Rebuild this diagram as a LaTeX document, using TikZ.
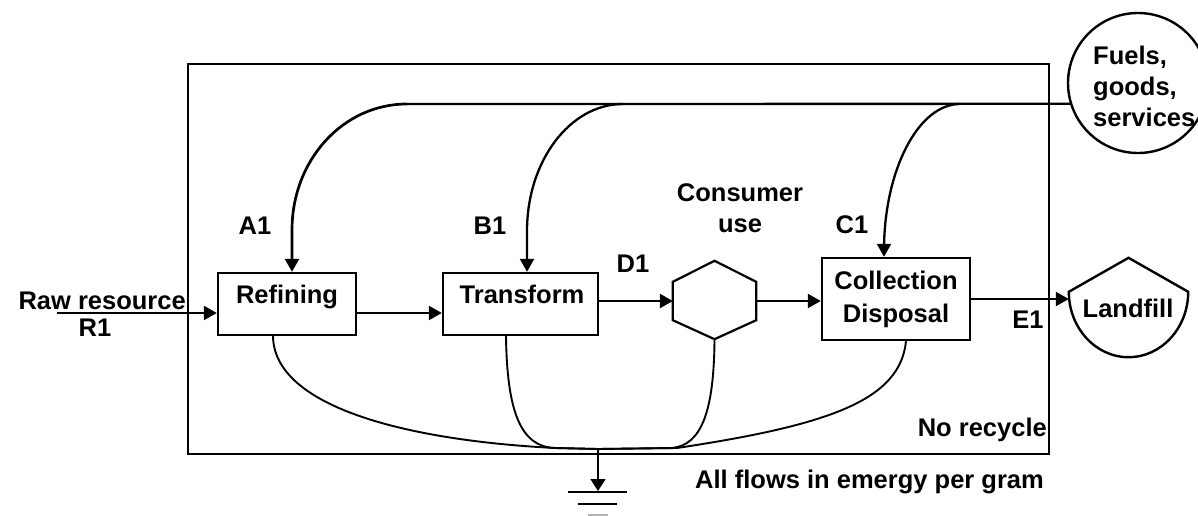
\documentclass[tikz,border=0pt]{standalone}
\usepackage{fontspec}
\newfontfamily\lbl{Liberation Sans}
\usetikzlibrary{arrows.meta,calc}
\begin{document}
\begin{tikzpicture}[x=1pt,y=-1pt,
  txt/.style={font=\lbl\bfseries\fontsize{25.5}{31}\selectfont, inner sep=0pt},
  box/.style={draw, line width=2.4pt, inner sep=0pt},
  ghost/.style={inner sep=0pt},
  flow/.style={line width=2.3pt, -{Triangle[length=13pt,width=14pt]}},
  sink/.style={line width=1.9pt},
  plain/.style={line width=2.3pt},
  gnd/.style={line width=2.4pt}]
\useasboundingbox (0,0) rectangle (1198,516);

% system boundary
\node[box, minimum width=861pt, minimum height=390pt] (sys) at (618.5,259) {};

% components
\node[box, minimum width=138pt, minimum height=62pt] (ref) at (287,304) {};
\node[box, minimum width=155pt, minimum height=62pt] (tr) at (520.5,304) {};
\node[box, minimum width=148pt, minimum height=82pt] (col) at (896,299) {};
\node[ghost, minimum width=83pt, minimum height=78pt] (hex) at (714.5,300) {};
\node[ghost, minimum width=119pt, minimum height=99pt] (land) at (1128.5,307.5) {};
\node[circle, draw, line width=2.4pt, minimum size=140pt, inner sep=0pt] (fuel) at (1138,83) {};

% hexagon
\draw[line width=2.2pt] (hex.north) -- ($(hex.north east)+(0,21)$) -- ($(hex.south east)+(0,-19)$)
  -- (hex.south) -- ($(hex.south west)+(0,-19)$) -- ($(hex.north west)+(0,21)$) -- cycle;

% landfill shape
\draw[line width=2.4pt] (land.north) -- ($(land.north east)+(0,34)$)
  .. controls ($(land.north east)+(0,70)$) and ($(land.south)+(33,0)$) .. (land.south)
  .. controls ($(land.south)+(-33,0)$) and ($(land.north west)+(0,70)$) .. ($(land.north west)+(0,34)$) -- cycle;

% text
\node[txt, anchor=base east] (traw) at (186,309) {Raw resource};
\node[txt, anchor=base] (tr1) at (95,336) {R1};
\node[txt, anchor=base] (ta1) at (255,234) {A1};
\node[txt, anchor=base] (tb1) at (490,234) {B1};
\node[txt, anchor=base] (td1) at (633,272) {D1};
\node[txt, anchor=base] (tcons) at (740,201) {Consumer};
\node[txt, anchor=base] (tuse) at (740,232) {use};
\node[txt, anchor=base] (tc1) at (852,233) {C1};
\node[txt, anchor=base] (tref) at (287,303) {Refining};
\node[txt, anchor=base] (ttr) at (522,303) {Transform};
\node[txt, anchor=base] (tcol) at (896,289) {Collection};
\node[txt, anchor=base] (tdis) at (896,322) {Disposal};
\node[txt, anchor=base] (te1) at (1028,328) {E1};
\node[txt, anchor=base] (tland) at (1128,317) {Landfill};
\node[txt, anchor=base east] (tnorec) at (1047,436) {No recycle};
\node[txt, anchor=base west] (tall) at (695,488) {All flows in emergy per gram};
\node[txt, anchor=base west] (tf1) at (1093,65) {Fuels,};
\node[txt, anchor=base west] (tf2) at (1093,96) {goods,};
\node[txt, anchor=base west] (tf3) at (1093,127) {services};

% helper coordinates
\coordinate (y313) at (0,313);
\coordinate (y301) at (0,301);
\coordinate (y299) at (0,299);
\coordinate (rawstart) at (57,313);
\coordinate (a0) at (407,104);
\coordinate (b0) at (623,104);
\coordinate (c0) at (960,104);
\coordinate (j) at (598,449);
\coordinate (g) at (598,491);

% main chain
\draw[flow] (rawstart) -- (ref.west |- y313);
\draw[flow] (ref.east |- y313) -- (tr.west |- y313);
\draw[flow] (tr.east |- y301) -- (hex.west |- y301);
\draw[flow] (hex.east |- y301) -- (col.west |- y301);
\draw[flow] (col.east |- y299) -- (land.west |- y299);

% inputs from fuels
\draw[plain] (fuel.197.5) -- (a0);
\draw[flow, line width=2.7pt] (a0) .. controls (343,104) and (292,160) .. (292,230) -- ($(ref.north)+(5,0)$);
\draw[flow] (b0) .. controls (570,104) and (527,161) .. (527,231) -- ($(tr.north)+(6.5,0)$);
\draw[flow] (c0) .. controls (918,104) and (884,171) .. (884,250) -- ($(col.north)+(-12,0)$);

% heat sink flows
\draw[sink] ($(ref.south)+(-14,0)$) .. controls (274,405) and (400,440) .. (555,448) -- (j);
\draw[sink] ($(tr.south)+(-14.5,0)$) .. controls (507,410) and (520,447) .. (555,448) -- (j);
\draw[sink] (hex.south) .. controls (714,410) and (702,445) .. (672,448) -- (j);
\draw[sink] ($(col.south)+(10,0)$) .. controls (900,400) and (830,425) .. (677,448) -- (j);
\draw[line width=1.6pt, -{Triangle[length=12pt,width=15pt]}] (j) -- (g);

% ground symbol
\draw[gnd] (568,492) -- (627,492);
\draw[gnd] (578,504) -- (617,504);
\draw[gnd, gray!60] (588,515) -- (608,515);
\end{tikzpicture}
\end{document}
